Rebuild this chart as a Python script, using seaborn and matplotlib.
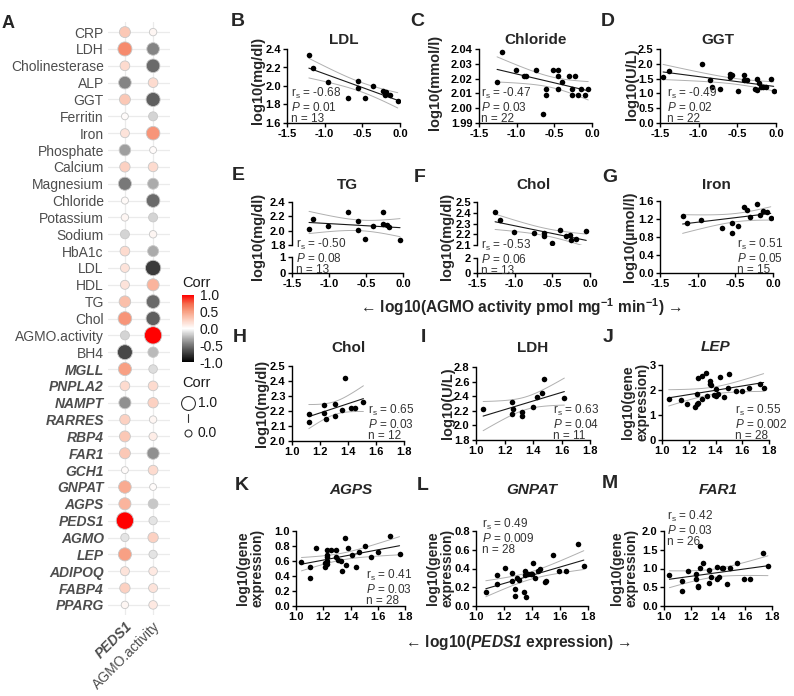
import matplotlib.pyplot as plt
import matplotlib.colors as mcolors
import matplotlib.cm as mcm
import numpy as np
import pandas as pd
import seaborn as sns

# ---------------- data ----------------
# panel A: spearman correlations
features = ["CRP", "LDH", "Cholinesterase", "ALP", "GGT", "Ferritin", "Iron",
            "Phosphate", "Calcium", "Magnesium", "Chloride", "Potassium", "Sodium",
            "HbA1c", "LDL", "HDL", "TG", "Chol", "AGMO.activity", "BH4",
            "MGLL", "PNPLA2", "NAMPT", "RARRES", "RBP4", "FAR1", "GCH1", "GNPAT",
            "AGPS", "PEDS1", "AGMO", "LEP", "ADIPOQ", "FABP4", "PPARG"]
gene_rows = ["MGLL", "PNPLA2", "NAMPT", "RARRES", "RBP4", "FAR1", "GCH1", "GNPAT",
             "AGPS", "PEDS1", "AGMO", "LEP", "ADIPOQ", "FABP4", "PPARG"]
dot_columns = ["PEDS1", "AGMO.activity"]
corr_peds1 = [0.30, 0.60, 0.20, -0.45, 0.30, 0.02, 0.15, -0.35, 0.25, -0.50,
              0.03, 0.05, -0.15, 0.20, 0.15, 0.15, 0.35, 0.55, -0.15, -0.70,
              0.50, 0.20, -0.40, 0.25, 0.30, 0.30, 0.02, 0.45, 0.40, 1.00,
              -0.10, 0.50, 0.15, 0.25, 0.05]
corr_agmo = [0.05, -0.45, -0.55, 0.20, -0.60, -0.15, 0.55, 0.02, 0.20, -0.30,
             -0.55, -0.15, 0.05, -0.30, -0.75, 0.40, -0.55, -0.60, 1.00, -0.25,
             -0.12, 0.20, 0.25, 0.05, 0.10, -0.40, 0.20, 0.02, -0.20, -0.10,
             0.25, -0.10, 0.12, 0.15, 0.12]
corr_ticks = [-1.0, -0.5, 0.0, 0.5, 1.0]

# B-G: x = log10(AGMO activity)
b_x = [-1.21, -1.15, -0.96, -0.69, -0.56, -0.56, -0.46, -0.36, -0.22, -0.20, -0.18, -0.13, -0.03]
b_y = [2.33, 2.19, 2.04, 1.87, 2.05, 1.98, 1.87, 2.00, 1.95, 1.90, 1.93, 1.90, 1.84]
c_x = [-1.26, -1.20, -1.01, -0.90, -0.87, -0.75, -0.61, -0.61, -0.65, -0.52, -0.45,
       -0.45, -0.40, -0.45, -0.30, -0.23, -0.27, -0.26, -0.19, -0.15, -0.09, -0.05]
c_y = [2.018, 2.038, 2.026, 2.022, 2.022, 2.026, 2.013, 2.009, 1.996, 2.026, 2.026,
       2.022, 2.018, 2.013, 2.022, 2.022, 2.013, 2.009, 2.009, 2.013, 2.009, 2.013]
d_x = [-1.46, -1.39, -0.96, -0.85, -0.83, -0.72, -0.60, -0.59, -0.57, -0.49, -0.41,
       -0.42, -0.38, -0.24, -0.22, -0.27, -0.24, -0.17, -0.13, -0.07, -0.03, -0.20]
d_y = [1.57, 1.74, 2.00, 1.46, 1.21, 1.14, 1.55, 1.66, 1.63, 1.07, 1.63,
       1.46, 1.46, 1.48, 1.36, 1.14, 1.11, 1.21, 1.21, 1.48, 1.07, 1.20]
e_x = [-1.27, -1.21, -1.02, -0.75, -0.61, -0.61, -0.41, -0.27, -0.27, -0.22, -0.19, -0.51, -0.04]
e_y = [2.02, 2.16, 2.06, 2.26, 2.14, 2.01, 2.07, 2.26, 2.09, 2.08, 2.05, 1.88, 1.87]
f_x = [-1.26, -1.20, -1.01, -0.75, -0.61, -0.61, -0.40, -0.51, -0.27, -0.25, -0.19, -0.05, -0.32]
f_y = [2.41, 2.33, 2.22, 2.21, 2.21, 2.18, 2.24, 2.12, 2.19, 2.15, 2.16, 2.23, 2.18]
g_x = [-1.20, -1.14, -0.95, -0.68, -0.55, -0.55, -0.46, -0.38, -0.34, -0.21, -0.17,
       -0.13, -0.08, -0.03, -0.30]
g_y = [1.26, 1.12, 1.18, 1.01, 1.12, 0.89, 1.05, 1.47, 1.40, 1.53, 1.28, 1.37, 1.35, 1.23, 1.25]

# H-M: x = log10(PEDS1 expression)
h_x = [1.12, 1.12, 1.23, 1.23, 1.24, 1.31, 1.31, 1.36, 1.38, 1.42, 1.45, 1.51]
h_y = [2.18, 2.13, 2.24, 2.19, 2.15, 2.25, 2.17, 2.21, 2.42, 2.22, 2.22, 2.26]
i_x = [1.05, 1.25, 1.25, 1.26, 1.32, 1.32, 1.40, 1.43, 1.46, 1.48, 1.62]
i_y = [2.22, 2.32, 2.16, 2.22, 2.19, 2.13, 2.25, 2.39, 2.45, 2.64, 2.37]
j_x = [1.05, 1.14, 1.19, 1.26, 1.25, 1.26, 1.27, 1.27, 1.30, 1.33, 1.34, 1.36, 1.36, 1.37,
       1.40, 1.40, 1.42, 1.43, 1.46, 1.50, 1.49, 1.55, 1.60, 1.65, 1.73, 1.76, 1.30, 1.39]
j_y = [1.63, 1.60, 1.45, 1.84, 1.31, 1.43, 1.47, 2.47, 2.57, 2.67, 1.77, 2.37, 2.24, 2.20,
       1.77, 2.03, 1.84, 2.51, 1.73, 2.63, 2.07, 1.96, 1.96, 2.07, 2.24, 2.07, 1.65, 1.80]
k_x = [1.04, 1.10, 1.10, 1.15, 1.23, 1.26, 1.23, 1.23, 1.21, 1.21, 1.23, 1.29, 1.29, 1.31,
       1.33, 1.34, 1.36, 1.37, 1.38, 1.41, 1.44, 1.46, 1.51, 1.55, 1.60, 1.69, 1.76, 1.23]
k_y = [0.59, 0.52, 0.37, 0.78, 0.75, 0.75, 0.65, 0.60, 0.58, 0.52, 0.56, 0.75, 0.65, 0.62,
       0.60, 0.47, 0.91, 0.55, 0.78, 0.68, 0.52, 0.72, 0.80, 0.65, 0.72, 0.94, 0.70, 0.68]
l_x = [1.07, 1.15, 1.15, 1.21, 1.26, 1.26, 1.28, 1.28, 1.29, 1.31, 1.34, 1.35, 1.35, 1.36,
       1.37, 1.39, 1.41, 1.42, 1.44, 1.46, 1.49, 1.50, 1.55, 1.59, 1.64, 1.73, 1.77, 1.40]
l_y = [0.15, 0.33, 0.24, 0.41, 0.35, 0.27, 0.18, 0.11, 0.30, 0.28, 0.15, 0.37, 0.33, 0.10,
       0.34, 0.34, 0.46, 0.30, 0.37, 0.40, 0.26, 0.27, 0.54, 0.37, 0.37, 0.66, 0.43, 0.34]
m_x = [1.04, 1.13, 1.13, 1.18, 1.24, 1.24, 1.25, 1.25, 1.27, 1.27, 1.29, 1.33, 1.33,
       1.35, 1.39, 1.39, 1.41, 1.43, 1.44, 1.47, 1.49, 1.54, 1.59, 1.64, 1.73, 1.77]
m_y = [0.83, 0.68, 0.41, 0.93, 0.85, 0.71, 0.50, 0.54, 1.60, 1.01, 1.16, 0.96, 0.62,
       0.78, 0.72, 1.03, 0.78, 1.01, 1.01, 0.59, 1.01, 1.14, 0.71, 0.71, 1.41, 1.07]

panel_letters = ["B", "C", "D", "E", "F", "G", "H", "I", "J", "K", "L", "M"]
panel_titles = ["LDL", "Chloride", "GGT", "TG", "Chol", "Iron",
                "Chol", "LDH", "LEP", "AGPS", "GNPAT", "FAR1"]
panel_ylabels = ["log10(mg/dl)", "log10(mmol/l)", "log10(U/L)", "log10(mg/dl)",
                 "log10(mg/dl)", "log10(\u00b5mol/l)", "log10(mg/dl)", "log10(U/L)",
                 "log10(gene\nexpression)", "log10(gene\nexpression)",
                 "log10(gene\nexpression)", "log10(gene\nexpression)"]
rs_vals = ["-0.68", "-0.47", "-0.49", "-0.50", "-0.53", "0.51",
           "0.65", "0.63", "0.55", "0.41", "0.49", "0.42"]
p_vals = ["0.01", "0.03", "0.02", "0.08", "0.06", "0.05",
          "0.03", "0.04", "0.002", "0.03", "0.009", "0.03"]
n_vals = [13, 22, 22, 13, 13, 15, 12, 11, 28, 28, 28, 26]

agmo_xticks = [-1.5, -1.0, -0.5, 0.0]
peds_xticks = [1.0, 1.2, 1.4, 1.6, 1.8]

# ---------------- style ----------------
W, H = 794, 696
sns.set_theme(style="ticks")
plt.rcParams["font.family"] = ["Liberation Sans", "DejaVu Sans"]
plt.rcParams["axes.unicode_minus"] = False
plt.rcParams["mathtext.fontset"] = "custom"
plt.rcParams["mathtext.rm"] = "Liberation Sans"
plt.rcParams["mathtext.it"] = "Liberation Sans:italic"
plt.rcParams["mathtext.bf"] = "Liberation Sans:bold"
plt.rcParams["mathtext.bfit"] = "Liberation Sans:italic:bold"

fig = plt.figure(figsize=(W / 100, H / 100), dpi=100)


def px_axes(x0, y0, x1, y1):
    return fig.add_axes([x0 / W, 1 - y1 / H, (x1 - x0) / W, (y1 - y0) / H])


def px_text(x, y, s, **kw):
    return fig.text(x / W, 1 - y / H, s, **kw)


# ---------------- panel A ----------------
n_feat = len(features)
df_a = pd.DataFrame({
    "feature": features * 2,
    "var": [dot_columns[0]] * n_feat + [dot_columns[1]] * n_feat,
    "corr": corr_peds1 + corr_agmo,
})
df_a["size"] = df_a["corr"].abs()
# black - white - red, interpolated roughly like ggplot's Lab gradient
cmap = mcolors.LinearSegmentedColormap.from_list(
    "corr", [(0.0, "#000000"), (0.125, "#3b3b3b"), (0.25, "#777777"),
             (0.375, "#b9b9b9"), (0.5, "#ffffff"), (0.625, "#fcd2c3"),
             (0.75, "#f8a185"), (0.875, "#f4694b"), (1.0, "#ff0000")])

ax_a = px_axes(108, 22, 170, 615)
ax_a.grid(True, color="#ebebeb", lw=0.9)
ax_a.set_axisbelow(True)
sns.scatterplot(data=df_a, x="var", y="feature", hue="corr", size="size",
                palette=cmap, hue_norm=(-1, 1), sizes=(22, 156), size_norm=(0, 1),
                edgecolor="#c8c8c8", linewidth=0.6, legend=False, ax=ax_a, zorder=3)
ax_a.set_xlim(-0.6, 1.6)
ax_a.set_ylim(n_feat - 0.4, -0.6)
ax_a.set_xlabel("")
ax_a.set_ylabel("")
for sp in ax_a.spines.values():
    sp.set_visible(False)
ax_a.tick_params(length=0, pad=3)
ax_a.set_yticks(range(n_feat), features, fontsize=10, color="#4d4d4d")
for lbl in ax_a.get_yticklabels():
    if lbl.get_text() in gene_rows:
        lbl.set_fontstyle("italic")
        lbl.set_fontweight("bold")
ax_a.set_xticks([0, 1], dot_columns, fontsize=10, color="#4d4d4d",
                rotation=45, ha="right", rotation_mode="anchor")
ax_a.get_xticklabels()[0].set_fontweight("bold")
ax_a.get_xticklabels()[0].set_fontstyle("italic")

# colour bar
cax = px_axes(182, 295, 194, 362)
sm = mcm.ScalarMappable(norm=mcolors.Normalize(-1, 1), cmap=cmap)
cb = fig.colorbar(sm, cax=cax)
cb.outline.set_visible(False)
cb.set_ticks(corr_ticks, labels=[f"{t:.1f}" for t in corr_ticks])
cax.tick_params(direction="in", color="white", length=2.5, width=0.6,
                labelsize=10, pad=4, labelcolor="#1a1a1a")
px_text(182, 283, "Corr", fontsize=10.5, va="center", color="#1a1a1a")

# size legend
px_text(182, 383, "Corr", fontsize=10.5, va="center", color="#1a1a1a")
lax = px_axes(178, 393, 198, 443)
lax.set_xlim(0, 1)
lax.set_ylim(50, 0)
lax.axis("off")
lax.scatter([0.5], [10], s=100, facecolor="white", edgecolor="#333333", lw=0.8)
lax.scatter([0.5], [40], s=25, facecolor="white", edgecolor="#333333", lw=0.8)
lax.plot([0.5, 0.5], [21, 29], color="#333333", lw=0.8)
px_text(198, 403, "1.0", fontsize=10, va="center", color="#1a1a1a")
px_text(198, 433, "0.0", fontsize=10, va="center", color="#1a1a1a")
px_text(2, 23, "A", fontsize=13, fontweight="bold", va="center")


# ---------------- scatter panels ----------------
def t95(df):
    z = 1.959964
    return (z + (z**3 + z) / (4 * df) + (5 * z**5 + 16 * z**3 + 3 * z) / (96 * df**2)
            + (3 * z**7 + 19 * z**5 + 17 * z**3 - 15 * z) / (384 * df**3))


def add_fit(ax, x, y):
    sns.regplot(x=np.asarray(x), y=np.asarray(y), ax=ax, scatter=False, ci=None,
                color="#1a1a1a", line_kws={"lw": 0.8})
    x = np.asarray(x)
    y = np.asarray(y)
    slope, icpt = np.polyfit(x, y, 1)
    xs = np.linspace(x.min(), x.max(), 100)
    n = len(x)
    resid = y - (icpt + slope * x)
    s = np.sqrt(np.sum(resid**2) / (n - 2))
    se = s * np.sqrt(1 / n + (xs - x.mean())**2 / np.sum((x - x.mean())**2))
    yhat = icpt + slope * xs
    for sign in (-1, 1):
        ax.plot(xs, yhat + sign * t95(n - 2) * se, color="#b0b0b0", lw=0.7)


def style_axes(ax):
    sns.despine(ax=ax)
    for sp in ("left", "bottom"):
        ax.spines[sp].set_linewidth(1.0)
        ax.spines[sp].set_color("black")
    ax.tick_params(direction="out", length=3, width=1, pad=1.5, colors="black")


def set_ticks(ax, axis, ticks, fmt):
    labels = [fmt.format(t) for t in ticks]
    if axis == "x":
        ax.set_xticks(ticks, labels, fontsize=8, fontweight="bold")
        ax.set_xlim(ticks[0], ticks[-1])
    else:
        ax.set_yticks(ticks, labels, fontsize=8, fontweight="bold")
        ax.set_ylim(ticks[0], ticks[-1])


# layout (pixels): axes rect, y ticks, letter pos, title y, stats pos, ylabel pos
layouts = [
    dict(rect=(287, 49, 400, 123), yt=[1.6, 1.8, 2.0, 2.2, 2.4], yf="{:.1f}",
         let=(238, 22), ty=40, st=(291, 86), yl=(258, 80)),
    dict(rect=(479, 49, 592, 123), yt=[1.99, 2.00, 2.01, 2.02, 2.03, 2.04], yf="{:.2f}",
         let=(417, 22), ty=40, st=(481, 86), yl=(435, 82)),
    dict(rect=(660, 49, 776, 123), yt=[0.0, 0.5, 1.0, 1.5, 2.0, 2.5], yf="{:.1f}",
         let=(608, 22), ty=40, st=(667, 86), yl=(632, 84)),
    dict(rect=(292, 202, 403, 245), yt=[1.8, 2.0, 2.2, 2.4], yf="{:.1f}",
         low=((292, 257, 403, 273), [0, 1]),
         let=(238, 175), ty=185, st=(296, 237), yl=(258, 236)),
    dict(rect=(477, 202, 590, 245), yt=[2.1, 2.2, 2.3, 2.4, 2.5], yf="{:.1f}",
         low=((477, 258, 590, 273), [0, 2]),
         let=(420, 177), ty=185, st=(481, 238), yl=(447, 236)),
    dict(rect=(660, 201, 773, 273), yt=[0.0, 0.4, 0.8, 1.2, 1.6], yf="{:.1f}",
         let=(610, 177), ty=185, st=(737, 237), yl=(630, 237)),
    dict(rect=(292, 366, 404, 441), yt=[2.0, 2.1, 2.2, 2.3, 2.4, 2.5], yf="{:.1f}",
         let=(240, 338), ty=348, st=(368, 403), yl=(262, 403)),
    dict(rect=(476, 367, 590, 440), yt=[1.8, 2.0, 2.2, 2.4, 2.6, 2.8], yf="{:.1f}",
         let=(423, 338), ty=348, st=(553, 403), yl=(448, 403)),
    dict(rect=(662, 365, 769, 440), yt=[0, 1, 2, 3], yf="{:d}",
         let=(608, 338), ty=347, st=(735, 403), yl=(635, 402)),
    dict(rect=(296, 531, 405, 606), yt=[0.0, 0.2, 0.4, 0.6, 0.8, 1.0], yf="{:.1f}",
         let=(242, 485), ty=490, st=(366, 568), yl=(250, 568)),
    dict(rect=(476, 531, 588, 606), yt=[0.0, 0.2, 0.4, 0.6, 0.8], yf="{:.1f}",
         let=(423, 485), ty=490, st=(482, 517), yl=(440, 568)),
    dict(rect=(664, 531, 772, 606), yt=[0.0, 0.5, 1.0, 1.5, 2.0], yf="{:.1f}",
         let=(610, 483), ty=490, st=(667, 509), yl=(624, 568)),
]
xs_all = [b_x, c_x, d_x, e_x, f_x, g_x, h_x, i_x, j_x, k_x, l_x, m_x]
ys_all = [b_y, c_y, d_y, e_y, f_y, g_y, h_y, i_y, j_y, k_y, l_y, m_y]

for idx, lay in enumerate(layouts):
    x0, y0, x1, y1 = lay["rect"]
    ax = px_axes(x0, y0, x1, y1)
    sns.scatterplot(x=xs_all[idx], y=ys_all[idx], ax=ax, color="black", s=16,
                    linewidth=0, zorder=3)
    add_fit(ax, xs_all[idx], ys_all[idx])
    style_axes(ax)
    xt = agmo_xticks if idx < 6 else peds_xticks
    set_ticks(ax, "x", xt, "{:.1f}")
    set_ticks(ax, "y", lay["yt"], lay["yf"])
    if "low" in lay:
        (lx0, ly0, lx1, ly1), lt = lay["low"]
        ax.spines["bottom"].set_visible(False)
        ax.tick_params(bottom=False, labelbottom=False)
        axl = px_axes(lx0, ly0, lx1, ly1)
        style_axes(axl)
        set_ticks(axl, "x", xt, "{:.1f}")
        set_ticks(axl, "y", lt, "{:d}")
    gene_panel = idx >= 8
    ax.set_ylabel(panel_ylabels[idx], fontsize=10 if gene_panel else 10.5,
                  fontweight="bold", linespacing=1.05)
    ax.yaxis.set_label_coords(lay["yl"][0] / W, 1 - lay["yl"][1] / H,
                              transform=fig.transFigure)
    ax.yaxis.label.set_va("center")
    ax.yaxis.label.set_ha("center")
    px_text((x0 + x1) / 2, lay["ty"], panel_titles[idx], fontsize=11,
            fontweight="bold", fontstyle="italic" if gene_panel else "normal",
            ha="center", va="center")
    px_text(lay["let"][0], lay["let"][1], panel_letters[idx], fontsize=14,
            fontweight="bold", ha="center", va="center")
    stats = (f"r$_{{\\mathrm{{s}}}}$ = {rs_vals[idx]}\n"
             f"$\\mathit{{P}}$ = {p_vals[idx]}\nn = {n_vals[idx]}")
    px_text(lay["st"][0], lay["st"][1], stats, fontsize=8.5, color="#333333",
            ha="left", va="top", linespacing=0.95)

px_text(521, 307, "\u2190 log10(AGMO activity pmol mg$^{\\mathbf{-1}}$ min$^{\\mathbf{-1}}$) \u2192",
        fontsize=11.2, fontweight="bold", ha="center", va="center")
px_text(518, 643, "\u2190 log10($\\mathbfit{PEDS1}$ expression) \u2192",
        fontsize=11.2, fontweight="bold", ha="center", va="center")

fig.savefig("out.png", dpi=100)
